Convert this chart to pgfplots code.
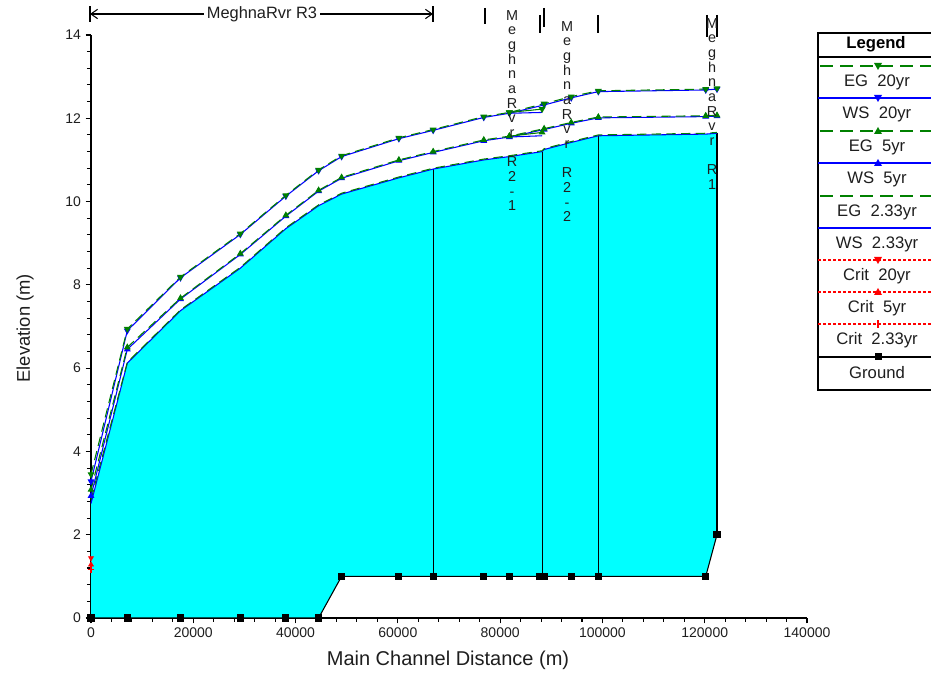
\documentclass[border=0pt]{standalone}
\usepackage{pgfplots}
\pgfplotsset{compat=1.18}
\usepackage{fontspec}
\setmainfont{Liberation Sans}
\usetikzlibrary{arrows.meta}
\definecolor{egreen}{RGB}{0,128,0}
\definecolor{wblue}{RGB}{0,0,255}
\definecolor{cred}{RGB}{255,0,0}
\definecolor{cyanfill}{RGB}{0,255,255}
\definecolor{txt}{RGB}{30,30,30}
\begin{document}
\begin{tikzpicture}
\path[use as bounding box] (0pt,0pt) rectangle (698.25pt,504.75pt);
\begin{axis}[
  at={(68.25pt,41.25pt)}, anchor=south west, scale only axis,
  width=537pt, height=437.25pt,
  xmin=0, xmax=140000, ymin=0, ymax=14,
  axis lines*=left, clip=false,
  axis line style={black, line width=0.9pt},
  tick align=outside,
  xtick={0,20000,...,140000}, minor x tick num=4,
  ytick={0,2,...,14}, minor y tick num=4,
  major tick length=4pt, minor tick length=3pt,
  tick style={black, line width=0.8pt},
  scaled x ticks=false,
  /pgf/number format/fixed,
  /pgf/number format/precision=0,
  /pgf/number format/1000 sep={},
  /pgf/number format/assume math mode=true,
  ticklabel style={font=\fontsize{10.5}{12}\selectfont, text=txt},
  xlabel={Main Channel Distance (m)},
  ylabel={Elevation (m)},
  xlabel style={font=\fontsize{15}{18}\selectfont, text=txt, at={(axis description cs:0.4986,-0.072)}, anchor=center},
  ylabel style={font=\fontsize{13.8}{16}\selectfont, text=txt, at={(axis description cs:-0.092,0.497)}, anchor=center},
]
% water fill (between ground and WS 2.33yr)
\addplot[draw=none, fill=cyanfill] coordinates {
 (0,0) (0,2.75) (7100,6.12) (17500,7.38) (29200,8.40) (38100,9.35) (44500,9.90)
 (49000,10.18) (60200,10.57) (66900,10.78) (76800,11.00) (81800,11.08) (88200,11.20)
 (88600,11.25) (93900,11.42) (99200,11.58) (120200,11.62) (122400,11.64)
 (122400,2) (120200,1) (49000,1) (44500,0)
} -- cycle;
% reach boundary lines
\addplot[black, line width=0.8pt] coordinates {(66900,1) (66900,10.78)};
\addplot[black, line width=0.8pt] coordinates {(88200,1) (88200,11.20)};
\addplot[black, line width=0.8pt] coordinates {(99200,1) (99200,11.58)};
\addplot[black, line width=0.8pt] coordinates {(122400,2) (122400,11.64)};
% ground
\addplot[black, line width=0.8pt, mark=square*, mark size=2.3pt] coordinates {
 (0,0) (7100,0) (17500,0) (29200,0) (38100,0) (44500,0) (49000,1) (60200,1)
 (66900,1) (76800,1) (81800,1) (87700,1) (88600,1) (93900,1) (99200,1) (120200,1) (122400,2)
};
% WS 2.33yr
\addplot[wblue, line width=0.8pt] coordinates {
 (0,2.75) (7100,6.12) (17500,7.38) (29200,8.40) (38100,9.35) (44500,9.90)
 (49000,10.18) (60200,10.57) (66900,10.78) (76800,11.00) (81800,11.08) (88200,11.20)
 (88600,11.25) (93900,11.42) (99200,11.58) (120200,11.62) (122400,11.64)
};
% EG 2.33yr
\addplot[egreen, line width=0.8pt, dash pattern=on 7pt off 4pt] coordinates {
 (0,2.85) (7100,6.14) (17500,7.40) (29200,8.42) (38100,9.37) (44500,9.92)
 (49000,10.20) (60200,10.59) (66900,10.80) (76800,11.02) (81800,11.10) (88200,11.22)
 (88600,11.27) (93900,11.44) (99200,11.60) (120200,11.64) (122400,11.66)
};
% WS 5yr
\addplot[wblue, line width=0.8pt, mark=triangle*, mark size=2.2pt, mark options={fill=wblue}] coordinates {
 (0,2.93) (7100,6.45) (17500,7.66) (29200,8.73) (38100,9.65) (44500,10.25)
 (49000,10.56) (60200,10.98) (66900,11.18) (76800,11.46) (81800,11.55)
 (88600,11.73) (93900,11.88) (99200,12.01) (120200,12.04) (122400,12.05)
};
\addplot[wblue, line width=0.8pt] coordinates {(81800,11.55) (88200,11.58)};
% EG 5yr
\addplot[egreen, line width=0.8pt, dash pattern=on 7pt off 4pt, mark=triangle*, mark size=2.2pt, mark options={solid, fill=egreen}] coordinates {
 (0,3.08) (7100,6.50) (17500,7.68) (29200,8.75) (38100,9.67) (44500,10.27)
 (49000,10.58) (60200,11.00) (66900,11.20) (76800,11.48) (81800,11.57)
 (88600,11.75) (93900,11.90) (99200,12.03) (120200,12.06) (122400,12.07)
};
\addplot[egreen, line width=0.8pt, mark=triangle*, mark size=2.2pt, mark options={solid, fill=egreen}] coordinates {(81800,11.57) (88200,11.66)};
% WS 20yr
\addplot[wblue, line width=0.8pt, mark=triangle*, mark size=2.2pt, mark options={rotate=180, fill=wblue}] coordinates {
 (0,3.28) (7100,6.90) (17500,8.17) (29200,9.21) (38100,10.13) (44500,10.74)
 (49000,11.08) (60200,11.51) (66900,11.71) (76800,12.02) (81800,12.12)
 (88600,12.32) (93900,12.49) (99200,12.64) (120200,12.68) (122400,12.70)
};
\addplot[wblue, line width=0.8pt] coordinates {(81800,12.12) (88200,12.14)};
% EG 20yr
\addplot[egreen, line width=0.8pt, dash pattern=on 7pt off 4pt, mark=triangle*, mark size=2.2pt, mark options={solid, rotate=180, fill=egreen}] coordinates {
 (0,3.45) (7100,6.94) (17500,8.19) (29200,9.23) (38100,10.15) (44500,10.76)
 (49000,11.10) (60200,11.53) (66900,11.73) (76800,12.04) (81800,12.14)
 (88600,12.35) (93900,12.52) (99200,12.66) (120200,12.70) (122400,12.72)
};
\addplot[egreen, line width=0.8pt, mark=triangle*, mark size=2.2pt, mark options={solid, rotate=180, fill=egreen}] coordinates {(81800,12.14) (88200,12.22)};
% critical depths
\addplot[cred, only marks, mark=triangle*, mark size=2.2pt, mark options={rotate=180, fill=cred}] coordinates {(0,1.44)};
\addplot[cred, only marks, mark=triangle*, mark size=2.2pt, mark options={fill=cred}] coordinates {(0,1.28)};
\addplot[cred, only marks, mark=+, mark size=2.5pt, mark options={line width=0.8pt}] coordinates {(0,1.16)};
\end{axis}

\begin{scope}[x=0.75pt,y=0.75pt]
% reach annotations
\draw[black, line width=0.8pt] (90,651) -- (90,667);
\draw[black, line width=0.8pt] (433,651) -- (433,667);
\draw[black, line width=0.8pt, {Straight Barb[length=5pt,width=7pt]}-{Straight Barb[length=5pt,width=7pt]}] (90,659) -- (433,659);
\node[fill=white, inner sep=2pt, text=txt, font=\fontsize{12.3}{14}\selectfont] at (262,659) {MeghnaRvr R3};
\draw[black, line width=0.8pt] (485,665) -- (485,649);
\draw[black, line width=0.8pt] (540,658) -- (540,640);
\draw[black, line width=0.8pt] (544,665) -- (544,646);
\draw[black, line width=0.8pt] (598,658) -- (598,640);
\draw[black, line width=0.8pt] (707,658) -- (707,636);
\draw[black, line width=0.8pt] (717,658) -- (717,636);
\tikzset{vtxt/.style={anchor=north, inner sep=0pt, align=center, text=txt, font=\fontsize{10.8}{11}\selectfont}}
\node[vtxt] at (512,663) {M\\e\\g\\h\\n\\a\\R\\v\\r\\\mbox{}\\R\\2\\-\\1};
\node[vtxt] at (567,652) {M\\e\\g\\h\\n\\a\\R\\v\\r\\\mbox{}\\R\\2\\-\\2};
\node[vtxt] at (712,655) {M\\e\\g\\h\\n\\a\\R\\v\\r\\\mbox{}\\R\\1};

% legend
\fill[white] (818,640) rectangle (932,283);
\draw[black, line width=1pt] (818,640) rectangle (933,283);
\draw[black, line width=0.8pt] (818,616) -- (933,616);
\node[font=\bfseries\fontsize{12.5}{14}\selectfont, text=black] at (876,629) {Legend};
\tikzset{legtxt/.style={font=\fontsize{12.5}{14}\selectfont, text=txt}}
% EG 20yr
\draw[egreen, line width=0.8pt, dash pattern=on 9.75pt off 5.25pt] (820,607) -- (933,607);
\fill[egreen] (874,610) -- (882,610) -- (878,603) -- cycle;
\node[legtxt] at (877,591) {EG\ \ 20yr};
% WS 20yr
\draw[wblue, line width=0.8pt] (818,575) -- (933,575);
\fill[wblue] (874,578) -- (882,578) -- (878,571) -- cycle;
\node[legtxt] at (877,559) {WS\ \ 20yr};
% EG 5yr
\draw[egreen, line width=0.8pt, dash pattern=on 9.75pt off 5.25pt] (820,542) -- (933,542);
\fill[egreen] (874,539) -- (882,539) -- (878,546) -- cycle;
\node[legtxt] at (877,526) {EG\ \ 5yr};
% WS 5yr
\draw[wblue, line width=0.8pt] (818,510) -- (933,510);
\fill[wblue] (874,507) -- (882,507) -- (878,514) -- cycle;
\node[legtxt] at (877,494) {WS\ \ 5yr};
% EG 2.33yr
\draw[egreen, line width=0.8pt, dash pattern=on 9.75pt off 5.25pt] (820,477) -- (933,477);
\node[legtxt] at (877,461) {EG\ \ 2.33yr};
% WS 2.33yr
\draw[wblue, line width=0.8pt] (818,445) -- (933,445);
\node[legtxt] at (877,429) {WS\ \ 2.33yr};
% Crit 20yr
\draw[cred, line width=0.8pt, dash pattern=on 2.25pt off 1.5pt] (818,413) -- (933,413);
\fill[cred] (874,416) -- (882,416) -- (878,409) -- cycle;
\node[legtxt] at (877,397) {Crit\ \ 20yr};
% Crit 5yr
\draw[cred, line width=0.8pt, dash pattern=on 2.25pt off 1.5pt] (818,381) -- (933,381);
\fill[cred] (874,378) -- (882,378) -- (878,385) -- cycle;
\node[legtxt] at (877,365) {Crit\ \ 5yr};
% Crit 2.33yr
\draw[cred, line width=0.8pt, dash pattern=on 2.25pt off 1.5pt] (818,349) -- (933,349);
\draw[cred, line width=0.8pt] (878,345) -- (878,353);
\node[legtxt] at (877,333) {Crit\ \ 2.33yr};
% Ground
\draw[black, line width=0.8pt] (818,316) -- (933,316);
\fill[black] (874.5,312.5) rectangle (881.5,319.5);
\node[legtxt] at (877,300) {Ground};
\end{scope}
\end{tikzpicture}
\end{document}
